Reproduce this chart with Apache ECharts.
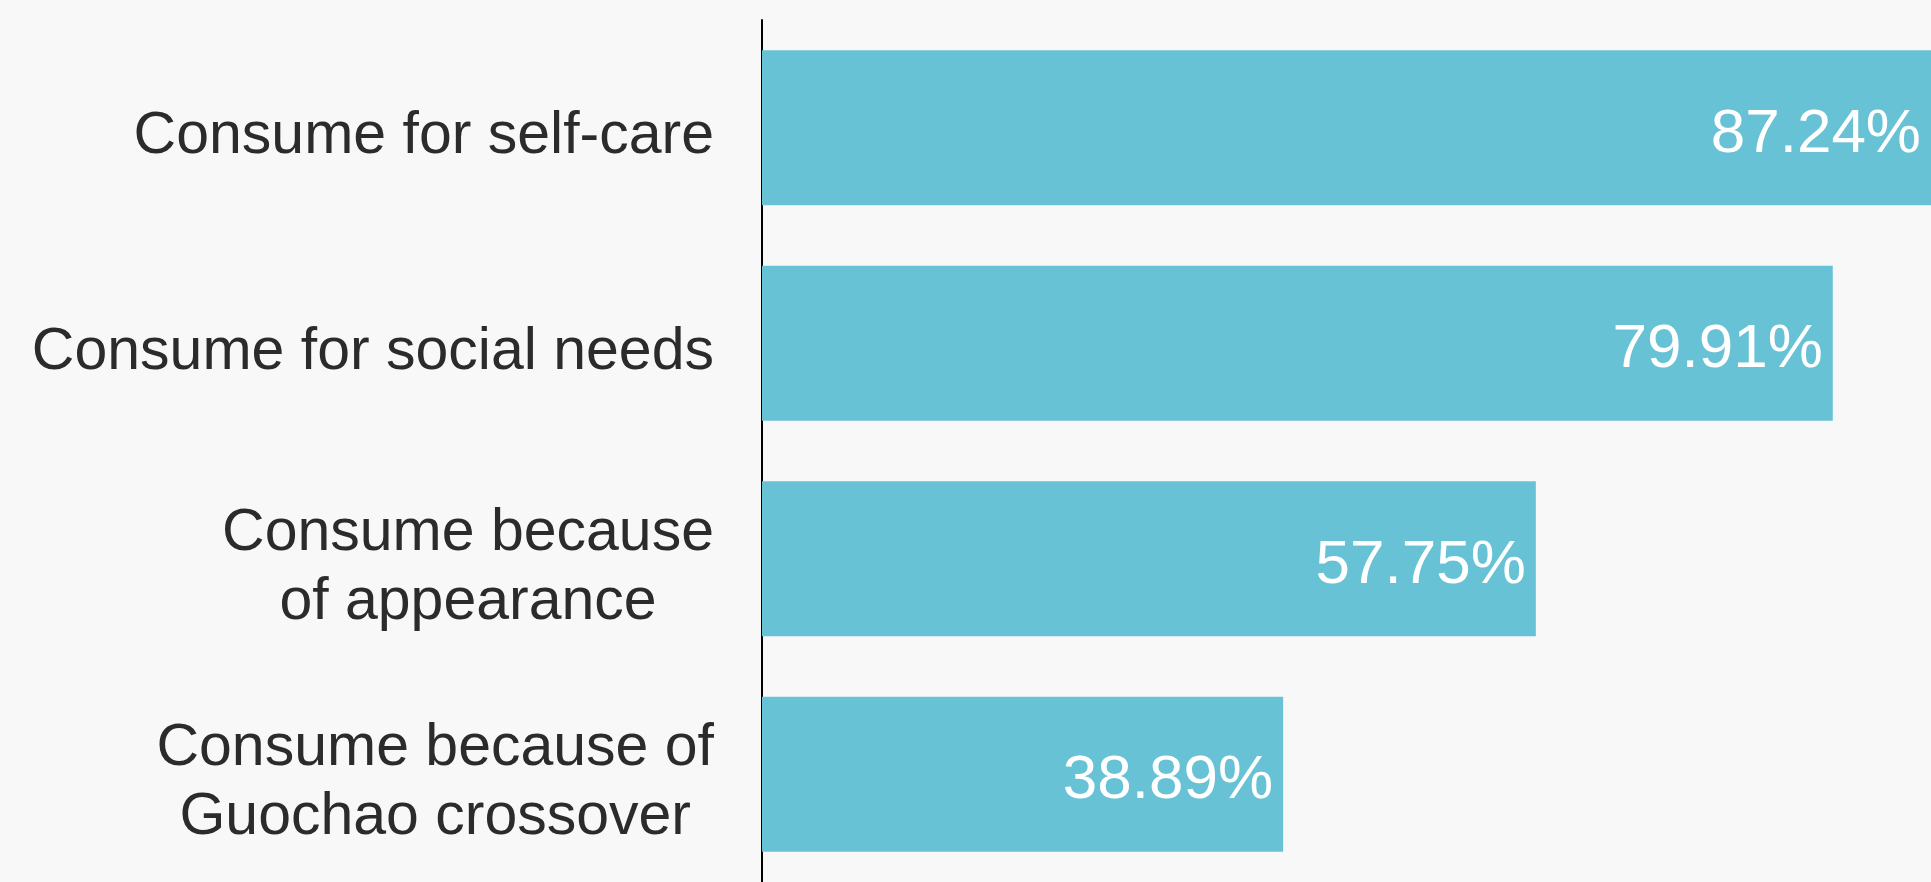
<!DOCTYPE html>
<html>
<head>
<meta charset="utf-8">
<script src="https://cdn.jsdelivr.net/npm/echarts@6/dist/echarts.min.js"></script>
<style>
html,body{margin:0;padding:0;background:#f8f8f8;}
#chart{width:1931px;height:882px;}
</style>
</head>
<body>
<div id="chart"></div>
<script>
const categories = [
  "Consume for self-care",
  "Consume for social needs",
  "Consume because\nof appearance",
  "Consume because of\nGuochao crossover"
];
const values = [87.24, 79.91, 57.75, 38.89];

const chart = echarts.init(document.getElementById('chart'));
chart.setOption({
  backgroundColor: '#f8f8f8',
  animation: false,
  grid: { left: 762, right: 0, top: 20, bottom: -6, containLabel: false },
  xAxis: {
    type: 'value', min: 0, max: 87.24,
    show: false
  },
  yAxis: {
    type: 'category',
    data: categories,
    inverse: true,
    axisLine: { show: true, lineStyle: { color: '#000', width: 2 } },
    axisTick: { show: false },
    axisLabel: {
      margin: 48,
      align: 'right',
      padding: [18, 0, 0, 0],
      formatter: function (v) {
        return v.split('\n').map(function (l) { return '{c|' + l + '}'; }).join('\n');
      },
      rich: {
        c: {
          align: 'center',
          fontFamily: 'Liberation Sans, Arial, sans-serif',
          fontSize: 59,
          lineHeight: 69,
          color: '#2b2b2b'
        }
      }
    }
  },
  series: [{
    type: 'bar',
    data: values,
    barWidth: 155,
    itemStyle: { color: '#68c2d6' },
    label: {
      show: true,
      position: 'insideRight',
      distance: 10,
      offset: [0, 7],
      color: '#ffffff',
      fontFamily: 'Liberation Sans, Arial, sans-serif',
      fontSize: 62,
      formatter: function (p) { return p.value.toFixed(2) + '%'; }
    }
  }]
});
</script>
</body>
</html>
